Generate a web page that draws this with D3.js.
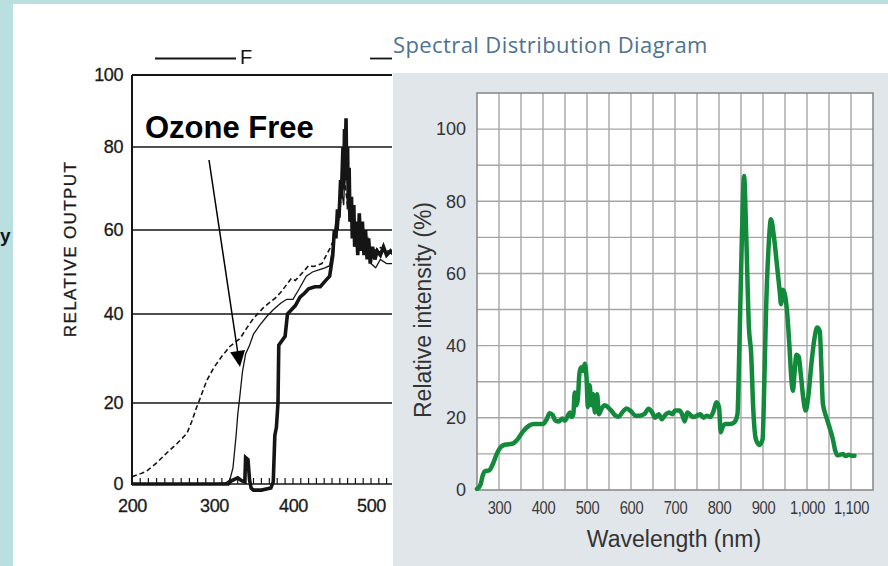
<!DOCTYPE html>
<html>
<head>
<meta charset="utf-8">
<script src="https://cdn.jsdelivr.net/npm/d3@7"></script>
<style>
  body { margin: 0; background: #b9dfe1; }
  svg { display: block; }
</style>
</head>
<body>
<svg width="888" height="566"></svg>
<script>
// ---- left chart (scanned lamp output, 200-530 nm visible) ----
const leftYTicks = [0, 20, 40, 60, 80, 100];
const leftXTicks = [200, 300, 400, 500];

// dashed curve (standard quartz)
const dashedCurve = [[200,1.8],[210,2.5],[218,3.2],[230,5.2],[242,7.6],[255,10],[267,12.5],[273,15.5],[278,18.5],
  [283,21],[291,25],[300,28],[310,30.5],[320,32.7],[333,34.5],[342,37],[350,39],[362,41.4],[372,43],[379,44],
  [386,45.5],[392,47],[398,48.5],[403,48],[413,50],[420,51.5],[426,51.3],[437,52],[447,55.5],[454,58.4],
  [458,62],[462,68],[466,72],[470,66],[476,60],[482,56],[490,58],[500,54],[510,56],[520,55],[530,55]];

// thin solid curve (ozone free)
const ozoneFreeCurve = [[200,0],[250,0],[300,0],[315,0.3],[320,1],[324,4],[326,8],[328,12],[330,17],[333,22],
  [336,27],[340,31],[345,33],[350,35.5],[358,37.5],[367,39.5],[375,41],[384,42.5],[392,43.5],[400,43.5],
  [408,46],[417,49],[425,50],[433,50.5],[441,51],[447,51.5],[451,56],[455,62],[458,60],[462,70],[465,66],
  [468,82],[470,70],[474,64],[478,58],[484,62],[490,56],[496,58],[500,52],[506,51],[512,53],[520,52],[530,52]];

// thick solid curve
const thickCurve = [[200,0],[230,0],[260,0],[290,0],[318,0],[322,0.8],[330,1.5],[335,0.8],[339,0.5],[340,6.5],
  [343,6],[345,1],[347,-1],[350,-1.5],[360,-1.5],[372,-1],[375,0.5],[377,12],[379,14],[381,20],[382,33],
  [386,34],[390,35],[393,40],[398,41],[403,42],[409,44],[415,45],[420,46],[428,46.5],[435,46.5],[442,48],
  [447,49],[451,54],[453,60],[455,58],[457,65],[459,63],[461,72],[462,68],[464,80],[465,70],[466,85],[467,78],
  [468,88],[469,72],[470,80],[471,65],[472,75],[473,62],[475,68],[476,58],[478,66],[479,56],[481,62],[483,54],
  [485,64],[487,55],[489,62],[491,54],[493,60],[495,53],[497,58],[499,52],[502,56],[505,53],[508,55],[512,54],
  [516,56],[520,54],[525,55],[530,54]];

// ---- right chart (spectral distribution) ----
const rightYTicks = [0, 20, 40, 60, 80, 100];
const rightXTicks = [300, 400, 500, 600, 700, 800, 900, 1000, 1100];
const spectrum = [[250,0.3],[258,1.5],[263,4],[268,5.2],[278,5.5],[286,7.2],[295,10],[305,12],[315,12.6],[330,12.8],
  [342,14],[355,16.3],[368,17.8],[380,18.3],[400,18.3],[408,19.5],[415,21.3],[422,20.8],[428,19.2],[436,19],
  [444,19.8],[450,19.2],[456,20.5],[461,21.5],[465,20.2],[469,21],[472,27],[476,23.5],[479,25],[483,32.5],
  [487,34],[491,33],[495,35],[499,31],[502,23],[506,29],[510,23.5],[514,26.5],[518,21.5],[523,26.5],[527,21],
  [533,22.5],[540,23.5],[547,23],[555,22],[563,20.8],[572,20.3],[580,21.5],[590,22.6],[600,21.8],[610,20.6],
  [620,20.6],[630,21],[640,22.5],[648,21.5],[655,20],[663,21],[670,19.6],[678,20.8],[686,21.5],[694,21],
  [700,22],[710,22],[716,21],[722,19],[728,21.5],[735,20.8],[742,20.2],[750,20.6],[758,21],[765,20],[772,20.6],
  [780,20.2],[788,22],[794,24.3],[800,23],[804,16],[808,17.4],[815,18.3],[825,18.3],[835,18.8],[842,21],
  [846,38],[852,70],[857,87],[862,70],[868,45],[873,38],[878,22],[884,14],[892,12.5],[899,14],[903,30],
  [907,50],[913,68],[918,75],[925,70],[932,62],[938,55],[941,51.5],[945,55.5],[950,54],[955,49],[960,40],
  [965,30],[968,27.5],[972,33],[976,37.5],[981,37],[986,32],[991,26],[997,22],[1003,26],[1010,35],[1017,42],
  [1023,45],[1029,44],[1033,33],[1036,24],[1045,19.8],[1052,17],[1058,14.5],[1064,11],[1069,9.6],[1076,9.8],
  [1082,10],[1088,9.4],[1095,9.8],[1102,9.5],[1108,9.5]];

const svg = d3.select("svg");
const ink = "#151515";

// white page behind the scan
svg.append("rect").attr("x", 13).attr("y", 4).attr("width", 875).attr("height", 562).attr("fill", "#fff");

// stray letter from cut-off text on the left edge
svg.append("text").attr("x", 0).attr("y", 242)
   .attr("font-family", "Liberation Sans, Arial").attr("font-weight", "bold").attr("font-size", 19)
   .attr("fill", ink).text("y");

// left scales (the scan is not quite linear, so piecewise)
const lx = d3.scaleLinear().domain([200, 300, 400, 500]).range([132, 214, 293, 371]);
const ly = d3.scaleLinear().domain([0, 20, 40, 60, 80, 100]).range([484, 403, 314, 230, 147, 75]);

const left = svg.append("g");

// horizontal grid lines
left.selectAll(".hgrid").data(leftYTicks.filter(d => d > 0 && d < 100)).enter().append("line")
    .attr("x1", lx(200)).attr("x2", 400).attr("y1", d => ly(d)).attr("y2", d => ly(d))
    .attr("stroke", ink).attr("stroke-width", 1.5);
// frame: top, left, bottom
left.append("line").attr("x1", lx(200)).attr("x2", 400).attr("y1", ly(100)).attr("y2", ly(100))
    .attr("stroke", ink).attr("stroke-width", 2);
left.append("line").attr("x1", lx(200)).attr("x2", lx(200)).attr("y1", ly(100)).attr("y2", ly(0) + 1)
    .attr("stroke", ink).attr("stroke-width", 2);
left.append("line").attr("x1", lx(200)).attr("x2", 400).attr("y1", ly(0)).attr("y2", ly(0))
    .attr("stroke", ink).attr("stroke-width", 1.6);
// minor ticks every 10 nm
left.selectAll(".minor").data(d3.range(200, 531, 10)).enter().append("line")
    .attr("x1", d => lx(d)).attr("x2", d => lx(d)).attr("y1", ly(0)).attr("y2", ly(0) - 6)
    .attr("stroke", ink).attr("stroke-width", 1.2);

// axes labels via d3 axes
const lyAxis = left.append("g").attr("transform", `translate(${lx(200)},0)`)
    .call(d3.axisLeft(ly).tickValues(leftYTicks).tickSize(0).tickPadding(9));
const lxAxis = left.append("g").attr("transform", `translate(0,${ly(0)})`)
    .call(d3.axisBottom(lx).tickValues(leftXTicks).tickSize(0).tickPadding(15));
[lyAxis, lxAxis].forEach(a => {
  a.select(".domain").remove();
  a.selectAll("text").attr("font-family", "Liberation Sans, Arial").attr("font-size", 18)
   .attr("fill", "#1a1a1a").attr("letter-spacing", -0.4)
   .attr("stroke", "#1a1a1a").attr("stroke-width", 0.3);
});

left.append("text")
    .attr("transform", "translate(76,249) rotate(-90)")
    .attr("text-anchor", "middle").attr("font-family", "Liberation Sans, Arial").attr("font-size", 17)
    .attr("letter-spacing", 1.4).attr("fill", "#1a1a1a").attr("stroke", "#1a1a1a").attr("stroke-width", 0.3)
    .text("RELATIVE OUTPUT");

// curves
const lline = d3.line().x(d => lx(d[0])).y(d => ly(d[1]));
left.append("path").datum(dashedCurve).attr("d", lline).attr("fill", "none")
    .attr("stroke", ink).attr("stroke-width", 1.6).attr("stroke-dasharray", "5,3");
left.append("path").datum(ozoneFreeCurve).attr("d", lline).attr("fill", "none")
    .attr("stroke", ink).attr("stroke-width", 1.3);
left.append("path").datum(thickCurve).attr("d", lline).attr("fill", "none")
    .attr("stroke", ink).attr("stroke-width", 3.6).attr("stroke-linejoin", "miter");

// legend fragment on top
left.append("line").attr("x1", 155).attr("x2", 236).attr("y1", 58.5).attr("y2", 58.5)
    .attr("stroke", ink).attr("stroke-width", 1.8);
left.append("text").attr("x", 240).attr("y", 64).attr("font-family", "Liberation Sans, Arial")
    .attr("font-size", 20).attr("fill", ink).text("F");
left.append("line").attr("x1", 370).attr("x2", 400).attr("y1", 58.5).attr("y2", 58.5)
    .attr("stroke", ink).attr("stroke-width", 1.8);

// annotation
left.append("text").attr("x", 145).attr("y", 138).attr("font-family", "Liberation Sans, Arial")
    .attr("font-weight", "bold").attr("font-size", 31).attr("fill", "#000").text("Ozone Free");
left.append("line").attr("x1", 209).attr("y1", 160).attr("x2", 238).attr("y2", 354)
    .attr("stroke", "#000").attr("stroke-width", 1.5);
left.append("path").attr("d", "M240,367 L230.2,352.3 L245,350.1 Z").attr("fill", "#000");

// ---- right panel ----
svg.append("rect").attr("x", 392).attr("y", 4).attr("width", 496).attr("height", 562).attr("fill", "#fff");
svg.append("rect").attr("x", 393).attr("y", 73).attr("width", 495).attr("height", 493).attr("fill", "#e1e6ea");
svg.append("text").attr("x", 393).attr("y", 53).attr("font-family", "Open Sans, sans-serif")
   .attr("font-size", 22).attr("letter-spacing", 0.4).attr("fill", "#4d7292").text("Spectral Distribution Diagram");

const rx = d3.scaleLinear().domain([250, 1150]).range([477, 873]);
const ry = d3.scaleLinear().domain([0, 110]).range([490, 93]);
const right = svg.append("g");

right.append("rect").attr("x", rx(250)).attr("y", ry(110))
     .attr("width", rx(1150) - rx(250)).attr("height", ry(0) - ry(110)).attr("fill", "#fff");
right.selectAll(".vg").data(d3.range(300, 1150, 50)).enter().append("line")
     .attr("x1", d => rx(d)).attr("x2", d => rx(d)).attr("y1", ry(0)).attr("y2", ry(110))
     .attr("stroke", "#a6a6a6").attr("stroke-width", 1.4);
right.selectAll(".hg").data(d3.range(10, 110, 10)).enter().append("line")
     .attr("x1", rx(250)).attr("x2", rx(1150)).attr("y1", d => ry(d)).attr("y2", d => ry(d))
     .attr("stroke", "#a6a6a6").attr("stroke-width", 1.4);
right.append("rect").attr("x", rx(250)).attr("y", ry(110))
     .attr("width", rx(1150) - rx(250)).attr("height", ry(0) - ry(110))
     .attr("fill", "none").attr("stroke", "#858585").attr("stroke-width", 1.5);

const ryAxis = right.append("g").attr("transform", `translate(${rx(250)},0)`)
     .call(d3.axisLeft(ry).tickValues(rightYTicks).tickSize(0).tickPadding(11));
const rxAxis = right.append("g").attr("transform", `translate(0,${ry(0)})`)
     .call(d3.axisBottom(rx).tickValues(rightXTicks).tickFormat(d3.format(",")).tickSize(0).tickPadding(12));
ryAxis.select(".domain").remove();
rxAxis.select(".domain").remove();
ryAxis.selectAll("text").attr("font-family", "Liberation Sans, Arial").attr("font-size", 18).attr("fill", "#333");
// condensed tick labels, squeezed around their own centre
rxAxis.selectAll("text").attr("font-family", "Liberation Sans, Arial")
     .attr("font-size", 17.5).attr("letter-spacing", -0.4).attr("fill", "#3a3a3a")
     .attr("transform", "scale(0.84,1)");

right.append("text").attr("x", 674).attr("y", 547).attr("text-anchor", "middle")
     .attr("font-family", "Liberation Sans, Arial").attr("font-size", 23).attr("fill", "#333")
     .text("Wavelength (nm)");
right.append("text").attr("transform", "translate(431,310) rotate(-90)").attr("text-anchor", "middle")
     .attr("font-family", "Liberation Sans, Arial").attr("font-size", 23).attr("fill", "#333")
     .text("Relative intensity (%)");

right.append("path").datum(spectrum)
     .attr("d", d3.line().x(d => rx(d[0])).y(d => ry(d[1])).curve(d3.curveMonotoneX))
     .attr("fill", "none").attr("stroke", "#138a3b").attr("stroke-width", 4.5)
     .attr("stroke-linejoin", "round").attr("stroke-linecap", "round");
</script>
</body>
</html>
